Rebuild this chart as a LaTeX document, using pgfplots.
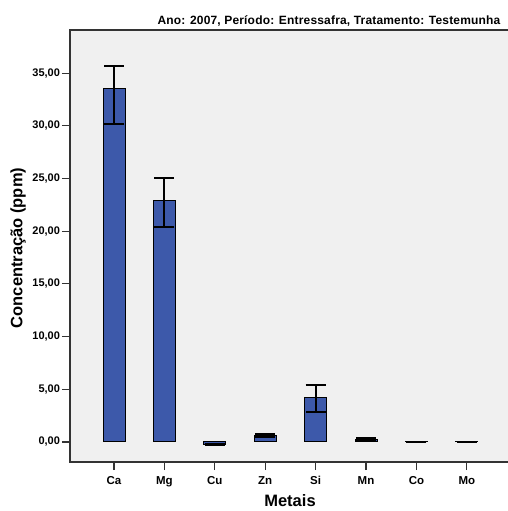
\documentclass[border=0pt]{standalone}
\usepackage{fontspec}
\setmainfont{Liberation Sans}
\usepackage{pgfplots}
\pgfplotsset{compat=1.18}
\definecolor{barblue}{RGB}{61,89,170}
\definecolor{plotbg}{RGB}{240,240,240}

\begin{document}
\begin{tikzpicture}
\begin{axis}[
    at={(0,0)}, anchor=south west,
    scale only axis, width=445pt, height=432pt,
    ybar, bar width=22pt,
    xmin=-0.873, xmax=7.956,
    ymin=-1.9, ymax=39.09,
    xtick={0,...,7},
    xticklabels={Ca,Mg,Cu,Zn,Si,Mn,Co,Mo},
    ytick={0,5,...,35},
    tick align=outside, major tick length=8pt,
    xtick pos=bottom, ytick pos=left,
    tick style={line width=1.2pt, black!80},
    axis line style={line width=1.2pt, black!80},
    axis background/.style={fill=plotbg},
    yticklabel style={font=\fontsize{11}{12}\selectfont\bfseries,
        /pgf/number format/fixed, /pgf/number format/fixed zerofill,
        /pgf/number format/precision=2, /pgf/number format/use comma,
        /pgf/number format/assume math mode=true, xshift=1.5pt},
    xticklabel style={font=\fontsize{11.5}{13}\selectfont\bfseries, yshift=-3pt},
]
\addplot[fill=barblue, draw=black, line width=1pt,
    error bars/.cd, y dir=both, y explicit,
    error bar style={line width=2pt, black},
    error mark options={rotate=90, line width=2pt, mark size=10pt, black}]
coordinates {
    (0,33.56) += (0,2.09) -= (0,3.36)
    (1,22.90) += (0,2.10) -= (0,2.50)
    (2,-0.25) += (0,0.06) -= (0,0.06)
    (3,0.60)  += (0,0.13) -= (0,0.13)
    (4,4.24)  += (0,1.20) -= (0,1.36)
    (5,0.28)  += (0,0.06) -= (0,0.06)
    (6,0.03)  += (0,0.01) -= (0,0.01)
    (7,0.03)  += (0,0.01) -= (0,0.01)
};
\end{axis}
\node[anchor=base west, font=\fontsize{12}{14}\selectfont\bfseries\addfontfeatures{LetterSpace=1.5}] at (84pt,437pt)
    {Ano: 2007, Período: Entressafra, Tratamento: Testemunha};
\node[rotate=90, font=\fontsize{16.5}{18}\selectfont\bfseries] at (-52pt,214pt) {Concentração (ppm)};
\node[font=\fontsize{16.5}{18}\selectfont\bfseries] at (220pt,-39pt) {Metais};
\pgfresetboundingbox
\path[use as bounding box] (-70pt,-49pt) rectangle (438pt,462pt);
\end{tikzpicture}
\end{document}
